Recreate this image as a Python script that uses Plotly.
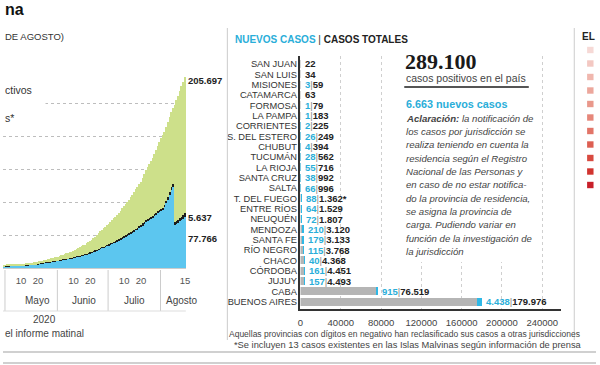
import plotly.graph_objects as go
import pandas as pd
import numpy as np

W, H = 600, 365
SANS = "Liberation Sans, Arial, sans-serif"
SERIF = "Liberation Serif, serif"
CYAN = "#2aaed9"
DARK = "#222222"

# ---------------- left chart (cumulative cases) ----------------
fechas = pd.date_range("2020-04-30 12:00", "2020-08-15 12:00", freq="D")
casos_totales = [
    4428,
    4532, 4681, 4783, 4887, 5020, 5208, 5371, 5611, 5776, 6034, 6278, 6563, 6879, 7134, 7479, 7805,
    8068, 8371, 8809, 9283, 9931, 10649, 11353, 12076, 12628, 13228, 13933, 14702, 15419, 16214, 16851,
    17415, 18319, 19268, 20197, 21037, 22020, 22794, 23620, 24761, 25987, 27373, 28764, 30295, 31577, 32785,
    34159, 35552, 37510, 39570, 41204, 42785, 44931, 47216, 49851, 52457, 55343, 57744, 59933, 62268, 64530,
    67197, 69941, 72786, 75376, 77815, 80447, 83426, 87030, 90693, 94060, 97509, 100166, 103265, 106910, 111160,
    114783, 119301, 122524, 126755, 130774, 136118, 141900, 148027, 153520, 158334, 162526, 167416, 173355,
    178996, 185373, 191302,
    196543, 201919, 206743, 213535, 220682, 228195, 235677, 241811, 246499, 253868, 260911, 268574, 276072,
    282437, 289100,
]
fallecidos = [
    218,
    225, 232, 237, 246, 260, 264, 273, 282, 293, 300, 305, 314, 319, 329, 353, 356, 363, 382, 393, 403,
    416, 433, 445, 452, 467, 484, 500, 508, 520, 528, 539,
    556, 569, 583, 608, 632, 648, 664, 693, 717, 735, 765, 785, 815, 833, 854, 878, 913, 929, 979, 992,
    1011, 1043, 1078, 1116, 1150, 1184, 1207, 1232, 1280, 1307,
    1351, 1385, 1427, 1490, 1522, 1582, 1636, 1694, 1720, 1774, 1810, 1845, 1968, 2050, 2112, 2178, 2220,
    2260, 2281, 2362, 2490, 2588, 2702, 2807, 2893, 2939, 3059, 3179, 3288, 3441, 3596,
    3667, 3730, 3881, 3979, 4106, 4251, 4411, 4523, 4606, 4764, 5004, 5213, 5362, 5527, 5637,
]
activos = [
    2790,
    2860, 2950, 3010, 3080, 3160, 3280, 3380, 3530, 3640, 3800, 3950, 4130, 4330, 4490, 4710, 4910,
    5080, 5270, 5550, 5850, 6250, 6700, 7150, 7610, 7960, 8330, 8780, 9260, 9710, 10210, 10610,
    10800, 11290, 11810, 12300, 12730, 13260, 13630, 14030, 14630, 15250, 15960, 16680, 17450, 18090, 18660,
    19300, 19980, 20930, 21920, 22700, 23400, 24400, 25500, 26720, 27910, 29280, 30320, 31290, 32380, 33360,
    34610, 35810, 37050, 38220, 39220, 40380, 41630, 43250, 44800, 46370, 47880, 49080, 50500, 52070, 54020,
    55670, 57620, 59060, 60970, 62640, 65060, 67260, 69720, 71690, 73470, 74760, 76340, 78530, 80370, 82680,
    84550,
    86090, 87830, 92000, 98230, 103720, 110670, 117840, 122600, 64500, 66000, 68000, 70500, 72500, 75000, 77766,
]
recuperados = (np.array(casos_totales) - np.array(activos) - np.array(fallecidos)).tolist()

ticks_fechas = ["2020-05-10 12:00", "2020-05-20 12:00", "2020-06-10 12:00", "2020-06-20 12:00",
                "2020-07-10 12:00", "2020-07-20 12:00", "2020-08-15 12:00"]
ticks_texto = ["10", "20", "10", "20", "10", "20", "15"]
meses = ["Mayo", "Junio", "Julio", "Agosto"]
meses_pos = ["2020-05-20 08:00", "2020-06-16 18:00", "2020-07-16 12:00", "2020-08-13 18:00"]
inicio_mes = ["2020-05-01", "2020-06-01", "2020-07-01", "2020-08-01"]

# ---------------- middle chart (provinces) ----------------
provincias = ["SAN JUAN", "SAN LUIS", "MISIONES", "CATAMARCA", "FORMOSA", "LA PAMPA", "CORRIENTES",
              "S. DEL ESTERO", "CHUBUT", "TUCUMÁN", "LA RIOJA", "SANTA CRUZ", "SALTA", "T. DEL FUEGO",
              "ENTRE RÍOS", "NEUQUÉN", "MENDOZA", "SANTA FE", "RÍO NEGRO", "CHACO", "CÓRDOBA", "JUJUY",
              "CABA", "BUENOS AIRES"]
nuevos_casos = [0, 0, 3, 0, 1, 1, 2, 26, 4, 28, 55, 38, 66, 88, 64, 72, 210, 179, 115, 40, 161, 157, 915, 4438]
casos_prov = [22, 34, 59, 63, 79, 183, 225, 249, 394, 562, 716, 992, 996, 1362, 1529, 1807, 3120, 3133,
              3768, 4368, 4451, 4493, 76519, 179976]
asterisco = {"T. DEL FUEGO": "*"}
eje_x_ticks = [0, 40000, 80000, 120000, 160000, 200000, 240000]
previos = (np.array(casos_prov) - np.array(nuevos_casos)).tolist()

aclaracion = [
    "<b>Aclaración:</b> la notificación de",
    "los casos por jurisdicción se",
    "realiza teniendo en cuenta la",
    "residencia según el Registro",
    "Nacional de las Personas y",
    "en caso de no estar notifica-",
    "do la provincia de residencia,",
    "se asigna la provincia de",
    "carga. Pudiendo variar en",
    "función de la investigación de",
    "la jurisdicción",
]


def fmt(v):
    return f"{v:,}".replace(",", ".")


def px(x):
    return x / W


def py(y):
    return 1 - y / H


fig = go.Figure()

# left chart: stacked bars
fig.add_trace(go.Bar(x=fechas, y=activos, marker=dict(color="#5cc6ef", line=dict(width=0)),
                     xaxis="x", yaxis="y", name="Activos", hoverinfo="skip"))
fig.add_trace(go.Bar(x=fechas, y=fallecidos, marker=dict(color="#1c1c1c", line=dict(width=0)),
                     xaxis="x", yaxis="y", name="Fallecidos", hoverinfo="skip"))
fig.add_trace(go.Bar(x=fechas, y=recuperados, marker=dict(color="#cde08a", line=dict(width=0)),
                     xaxis="x", yaxis="y", name="Recuperados", hoverinfo="skip"))

# middle chart: horizontal stacked bars
fig.add_trace(go.Bar(y=provincias, x=previos, orientation="h", width=0.78,
                     marker=dict(color="#b5b5b5", line=dict(width=0)),
                     xaxis="x2", yaxis="y2", hoverinfo="skip"))
fig.add_trace(go.Bar(y=provincias, x=nuevos_casos, orientation="h", width=0.78,
                     marker=dict(color="#2fb8e6", line=dict(width=0)),
                     xaxis="x2", yaxis="y2", hoverinfo="skip"))

ann = []


def txt(x, y, s, size=9.5, color=DARK, anchor="left", family=SANS, yanchor="middle"):
    ann.append(dict(x=px(x), y=py(y), xref="paper", yref="paper", text=s, showarrow=False,
                    xanchor=anchor, yanchor=yanchor, font=dict(size=size, color=color, family=family)))


# province value labels
for p, n, t in zip(provincias, nuevos_casos, casos_prov):
    tot = f"<b>{fmt(t)}{asterisco.get(p, '')}</b>"
    if n > 0:
        s = f"<span style='color:{CYAN}'><b>{fmt(n)}</b></span><span style='color:#888'>|</span>{tot}"
    else:
        s = tot
    ann.append(dict(x=t, y=p, xref="x2", yref="y2", text=s, showarrow=False, xanchor="left",
                    xshift=2, font=dict(size=9.5, color=DARK, family=SANS)))

# month labels of left chart
for m, pos in zip(meses, meses_pos):
    ann.append(dict(x=pos, y=py(300), xref="x", yref="paper", text=m, showarrow=False,
                    xanchor="center", yanchor="middle", font=dict(size=10, color="#444", family=SANS)))

# texts
txt(0, 9, "<b>na</b>", size=16, color="#111", anchor="left")
txt(0, 36, "DE AGOSTO)", size=9.5, color="#333")
txt(0, 90, "ctivos", size=10.5, color="#333")
txt(0, 118, "s*", size=10.5, color="#333")
txt(185, 81, "<b>205.697</b>", size=9.5, color=DARK)
txt(185, 217, "<b>5.637</b>", size=9.5, color=DARK)
txt(185, 238, "<b>77.766</b>", size=9.5, color=DARK)
txt(42, 319, "2020", size=10, color="#444", anchor="center")
txt(0, 333, "el informe matinal", size=10, color="#444")

txt(233, 39, f"<b><span style='color:{CYAN}'>NUEVOS CASOS</span></b><span style='color:#333'> | </span><b>CASOS TOTALES</b>",
    size=10, color="#222")
txt(405, 62, "<b>289.100</b>", size=22, color="#1a1a1a", family=SERIF)
txt(406, 78, "casos positivos en el país", size=10.5, color="#444")
txt(406, 104, "<b>6.663 nuevos casos</b>", size=10.8, color=CYAN)
for i, line in enumerate(aclaracion):
    txt(406, 118.3 + i * 13.33, f"<i>{line}</i>", size=9.6, color="#444")

txt(227, 334, "Aquellas provincias con dígitos en negativo han reclasificado sus casos a otras jurisdicciones",
    size=8.5, color="#444")
txt(232, 345, "*Se incluyen 13 casos existentes en las Islas Malvinas según información de prensa",
    size=9.3, color="#444")
txt(584, 36, "<b>EL</b>", size=10, color="#222")

shapes = []
# left chart month separators and bottom rule
for d in inicio_mes:
    shapes.append(dict(type="line", xref="x", yref="paper", x0=d, x1=d, y0=py(270), y1=py(311),
                       line=dict(color="#cccccc", width=1)))
shapes.append(dict(type="line", xref="paper", yref="paper", x0=0, x1=px(185), y0=py(311), y1=py(311),
                   line=dict(color="#dddddd", width=1)))
# mask of gridline behind legend
shapes.append(dict(type="rect", xref="paper", yref="paper", x0=0, x1=px(43), y0=py(108), y1=py(98),
                   fillcolor="white", line=dict(width=0), layer="above"))
# white box behind text block
shapes.append(dict(type="rect", xref="paper", yref="paper", x0=px(400), x1=px(540), y0=py(262), y1=py(44),
                   fillcolor="white", line=dict(width=0), layer="above"))
# underline below 289.100
shapes.append(dict(type="line", xref="paper", yref="paper", x0=px(406), x1=px(532), y0=py(87), y1=py(87),
                   line=dict(color="#555555", width=2)))
# panel dividers
for xv in (227, 578):
    shapes.append(dict(type="line", xref="paper", yref="paper", x0=px(xv), x1=px(xv), y0=py(28), y1=py(340),
                       line=dict(color="#cccccc", width=1)))
for yv in (352, 363):
    shapes.append(dict(type="line", xref="paper", yref="paper", x0=0, x1=1, y0=py(yv), y1=py(yv),
                       line=dict(color="#d0d0d0", width=2)))
# red scale squares on the right panel
rojos = ["#f6d9d6", "#f3c8c2", "#f0b7ae", "#eca79c", "#e9988b", "#e6877a", "#e27568", "#dd5f52",
         "#d84a40", "#d1342f", "#c8202a"]
for i, c in enumerate(rojos):
    yc = 50 + i * 13.5
    shapes.append(dict(type="rect", xref="paper", yref="paper", x0=px(591), x1=px(597.5),
                       y0=py(yc + 3.2), y1=py(yc - 3.2), fillcolor=c, line=dict(width=0)))

fig.update_layout(
    width=W, height=H, margin=dict(l=0, r=0, t=0, b=0),
    paper_bgcolor="white", plot_bgcolor="white",
    barmode="stack", bargap=0.14, showlegend=False,
    font=dict(family=SANS, size=9.5, color="#333"),
    annotations=ann, shapes=shapes,
    xaxis=dict(domain=[0, px(185.5)], type="date", range=["2020-04-29 20:00", "2020-08-16 07:00"],
               tickvals=ticks_fechas, ticktext=ticks_texto, ticks="", showgrid=False, zeroline=False,
               showline=True, linecolor="#cccccc", linewidth=1,
               tickfont=dict(size=9.5, color="#555"), ticklabelstandoff=4, anchor="y"),
    yaxis=dict(domain=[py(268), py(70)], range=[0, 300000], dtick=50000, showticklabels=False,
               showgrid=True, gridcolor="#bdbdbd", griddash="dot", gridwidth=1, zeroline=False,
               anchor="x"),
    xaxis2=dict(domain=[px(301), px(565)], range=[0, 259000], tickvals=eje_x_ticks,
                ticktext=[str(v) for v in eje_x_ticks], ticks="", showgrid=True, gridcolor="#cfcfcf",
                griddash="dot", zeroline=False, showline=True, linecolor="#333333", linewidth=1.5,
                tickfont=dict(size=9.5, color="#444"), ticklabelstandoff=4, anchor="y2"),
    yaxis2=dict(domain=[py(309.3), py(56.4)], type="category", categoryorder="array",
                categoryarray=provincias, autorange="reversed", ticks="", showgrid=False,
                tickmode="array", tickvals=provincias, ticktext=provincias,
                zeroline=False, showline=True, linecolor="#333333", linewidth=1.5,
                tickfont=dict(size=9.3, color="#333"), anchor="x2"),
)

fig.write_html("out.html", config={"displayModeBar": False},
               post_script="document.body.style.margin='0';document.body.style.overflow='hidden';")
